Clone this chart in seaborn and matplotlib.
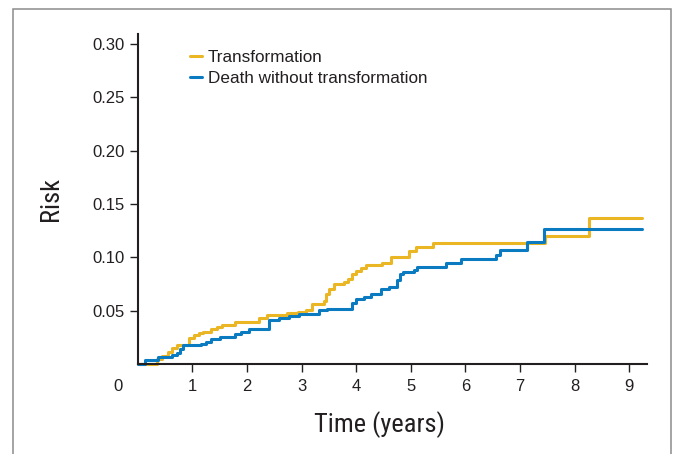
import matplotlib
matplotlib.use("Agg")
import matplotlib.pyplot as plt
from matplotlib import font_manager
import seaborn as sns
import pandas as pd
from matplotlib.patches import Rectangle

# ---------------- data ----------------
series_names = ["Transformation", "Death without transformation"]

t_transform = [0, 0.35, 0.44, 0.56, 0.62, 0.71, 0.93, 1.02, 1.11, 1.20,
               1.33, 1.45, 1.54, 1.78, 2.21, 2.37, 2.73, 2.94, 3.07, 3.19,
               3.41, 3.44, 3.50, 3.59, 3.78, 3.84, 3.93, 3.99, 4.08, 4.17,
               4.48, 4.63, 4.97, 5.09, 5.40, 7.45, 8.26, 9.23]
risk_transform = [0, 0.005, 0.0075, 0.011, 0.015, 0.018, 0.024, 0.027, 0.029, 0.030,
                  0.033, 0.035, 0.037, 0.039, 0.043, 0.046, 0.048, 0.049, 0.051, 0.056,
                  0.059, 0.066, 0.070, 0.075, 0.077, 0.080, 0.084, 0.087, 0.090, 0.093,
                  0.095, 0.100, 0.106, 0.110, 0.113, 0.120, 0.137, 0.137]

t_death = [0, 0.13, 0.37, 0.62, 0.71, 0.77, 0.83, 1.15, 1.25, 1.34,
           1.50, 1.77, 1.89, 2.04, 2.40, 2.58, 2.77, 2.95, 3.31, 3.47,
           3.93, 3.99, 4.14, 4.27, 4.46, 4.60, 4.74, 4.80, 4.86, 5.06,
           5.12, 5.64, 5.92, 6.56, 6.63, 7.12, 7.44, 9.23]
risk_death = [0, 0.0035, 0.0066, 0.008, 0.010, 0.0145, 0.0176, 0.019, 0.021, 0.023,
              0.025, 0.0285, 0.030, 0.033, 0.041, 0.043, 0.045, 0.047, 0.0505, 0.052,
              0.057, 0.061, 0.063, 0.066, 0.070, 0.072, 0.079, 0.084, 0.086, 0.0885,
              0.091, 0.095, 0.098, 0.102, 0.107, 0.114, 0.127, 0.127]

x_ticks = [1, 2, 3, 4, 5, 6, 7, 8, 9]
x_tick_labels = ["1", "2", "3", "4", "5", "6", "7", "8", "9"]
y_ticks = [0.05, 0.10, 0.15, 0.20, 0.25, 0.30]
y_tick_labels = ["0.05", "0.10", "0.15", "0.20", "0.25", "0.30"]
origin_label = "0"
x_label = "Time (years)"
y_label = "Risk"

colors = ["#EAB624", "#0B7BC1"]

df = pd.concat([
    pd.DataFrame({"time": t_transform, "risk": risk_transform, "event": series_names[0]}),
    pd.DataFrame({"time": t_death, "risk": risk_death, "event": series_names[1]}),
], ignore_index=True)

# ---------------- style ----------------
sns.set_style("ticks")
plt.rcParams["font.family"] = ["Liberation Sans", "DejaVu Sans"]
dark = "#231f20"

# condensed face for axis titles if one is installed
names = {f.name for f in font_manager.fontManager.ttflist}
label_font = None
for cand in ["Roboto Condensed", "Liberation Sans Narrow", "Arial Narrow",
             "Open Sans Condensed", "Nimbus Sans Narrow"]:
    if cand in names:
        label_font = cand
        break
if label_font is not None:
    label_family = [label_font, "Liberation Sans", "DejaVu Sans"]
    label_size = 19
else:
    label_family = ["Liberation Sans", "DejaVu Sans"]
    label_size = 17

W, H = 681, 454
fig = plt.figure(figsize=(W / 100, H / 100), dpi=100)

# outer frame like the reference
fig.patches.append(Rectangle((13 / W, -0.05), (671 - 13) / W, 1.05 - 9 / H,
                             transform=fig.transFigure, fill=False,
                             edgecolor="#8c8c8c", linewidth=1.1, zorder=0))

x0, x1 = 137.9, 647.3
y0, y1 = 364, 34
ax = fig.add_axes([x0 / W, 1 - y0 / H, (x1 - x0) / W, (y0 - y1) / H])

sns.lineplot(data=df, x="time", y="risk", hue="event", hue_order=series_names,
             palette=colors, drawstyle="steps-post", estimator=None, sort=False,
             linewidth=2.2, ax=ax)
for ln in ax.lines:
    ln.set_clip_on(False)

ax.set_xlim(0, 9.33)
ax.set_ylim(0, 0.3094)
ax.set_xticks(x_ticks)
ax.set_xticklabels(x_tick_labels)
ax.set_yticks(y_ticks)
ax.set_yticklabels(y_tick_labels)

for s in ["top", "right"]:
    ax.spines[s].set_visible(False)
for s in ["left", "bottom"]:
    ax.spines[s].set_linewidth(1.5)
    ax.spines[s].set_color(dark)
ax.tick_params(axis="both", direction="out", length=5.5, width=1.0, color=dark,
               labelsize=12, labelcolor=dark, pad=4)
ax.tick_params(axis="x", pad=5)

ax.annotate(origin_label, xy=(0, 0), xycoords="data", xytext=(-14.5, -10.5),
            textcoords="offset points", ha="center", va="top", fontsize=12, color=dark)

ax.set_xlabel(x_label, fontsize=label_size, family=label_family, color=dark, labelpad=13)
ax.xaxis.label.set_x((379 - x0) / (x1 - x0))
ax.set_ylabel(y_label, fontsize=label_size, family=label_family, color=dark, labelpad=21)

leg = ax.legend(loc="upper left", bbox_to_anchor=(190 / W, 1 - 49.5 / H),
                bbox_transform=fig.transFigure, frameon=False, fontsize=12.3,
                handlelength=0.7, handletextpad=0.35, labelspacing=0.36,
                borderpad=0, borderaxespad=0, title=None)
for txt in leg.get_texts():
    txt.set_color(dark)

fig.savefig("out.png", dpi=100)
